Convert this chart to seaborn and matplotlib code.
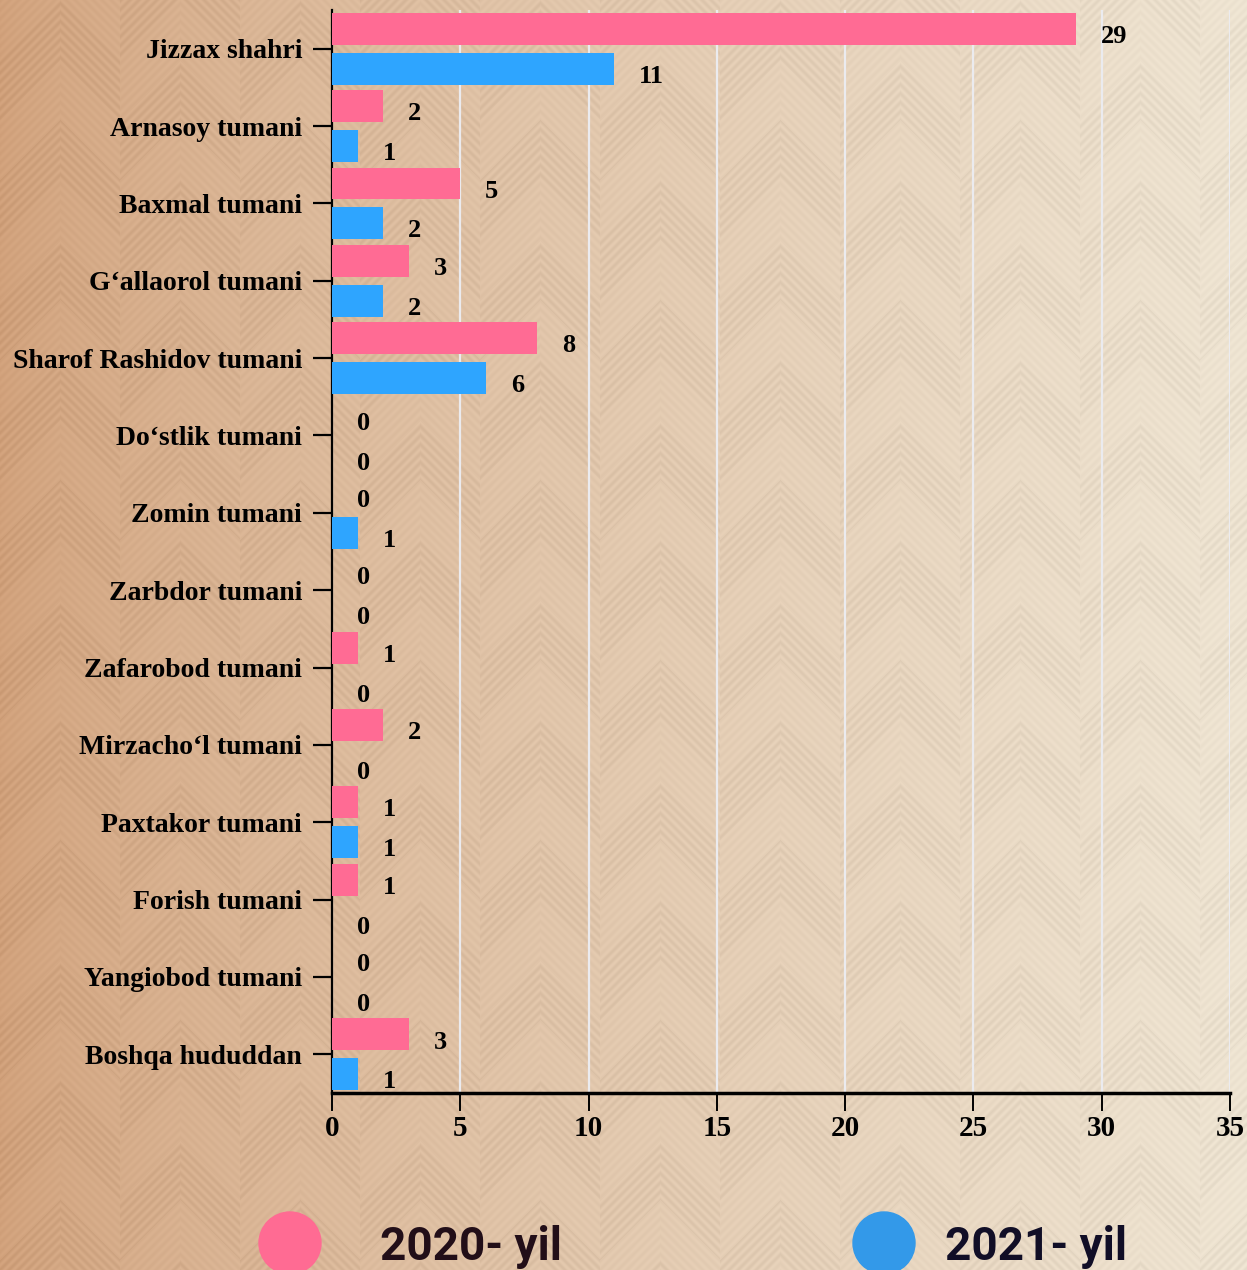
import numpy as np
import pandas as pd
import matplotlib
matplotlib.use("Agg")
import matplotlib.pyplot as plt
import seaborn as sns

# data
hududlar = [
    "Jizzax shahri", "Arnasoy tumani", "Baxmal tumani", "G\u2018allaorol tumani",
    "Sharof Rashidov tumani", "Do\u2018stlik tumani", "Zomin tumani", "Zarbdor tumani",
    "Zafarobod tumani", "Mirzacho\u2018l tumani", "Paxtakor tumani", "Forish tumani",
    "Yangiobod tumani", "Boshqa hududdan",
]
yil_2020 = [29, 2, 5, 3, 8, 0, 0, 0, 1, 2, 1, 1, 0, 3]
yil_2021 = [11, 1, 2, 2, 6, 0, 1, 0, 0, 0, 1, 0, 0, 1]
yillar = ["2020- yil", "2021- yil"]
x_ticks = [0, 5, 10, 15, 20, 25, 30, 35]

bar_colors = ["#ff6b94", "#2ea5ff"]
legend_colors = ["#ff6b93", "#3399e9"]
legend_text_colors = ["#220e18", "#110e26"]

df = pd.DataFrame({
    "hudud": hududlar * 2,
    "soni": yil_2020 + yil_2021,
    "yil": [yillar[0]] * len(hududlar) + [yillar[1]] * len(hududlar),
})

sns.set_style("white")
plt.rcParams["font.family"] = ["Liberation Serif", "DejaVu Serif"]
plt.rcParams["text.color"] = "black"
plt.rcParams["xtick.color"] = "black"
plt.rcParams["ytick.color"] = "black"

W, H = 1247, 1270
fig = plt.figure(figsize=(W / 100, H / 100), dpi=100)

# background: warm gradient with faint chevron texture
bg = fig.add_axes([0, 0, 1, 1], zorder=-10)
xx, yy = np.meshgrid(np.arange(W), np.arange(H))
t = (xx / W) ** 0.75
left = np.array([212, 164, 126]) / 255
right = np.array([241, 231, 213]) / 255
img = left[None, None, :] * (1 - t[..., None]) + right[None, None, :] * t[..., None]
T = 120
f = yy + np.abs(((xx + T / 2) % T) - T / 2)
stripes = 0.5 + 0.5 * np.cos(2 * np.pi * f / 9)
seg = ((f // 60) + (xx // T)) % 2
shade = 0.045 * stripes * (0.5 + 0.5 * seg)
img = np.clip(img - shade[..., None], 0, 1)
bg.imshow(img, aspect="auto", extent=[0, 1, 0, 1])
bg.set_axis_off()

ax = fig.add_axes([332 / W, 177 / H, (1230 - 332) / W, (1260 - 177) / H])
ax.patch.set_alpha(0)

sns.barplot(
    data=df, y="hudud", x="soni", hue="yil", orient="h",
    palette=bar_colors, saturation=1, width=1.03, gap=0.2,
    legend=False, ax=ax, zorder=3, linewidth=0,
)

for cont in ax.containers:
    for p in cont:
        w = p.get_width()
        ax.annotate(
            f"{int(round(w))}", (w, p.get_y() + p.get_height() / 2),
            xytext=(18, -5.5), textcoords="offset points",
            ha="left", va="center", fontsize=19, fontweight="bold", color="black",
        )

ax.set_xlim(0, 35)
ax.set_ylim(len(hududlar) - 0.5, -0.5)
ax.set_xticks(x_ticks)
ax.set_xlabel("")
ax.set_ylabel("")
ax.grid(axis="x", color="#ebebef", linewidth=1.6, zorder=0)
ax.grid(axis="y", visible=False)
ax.set_axisbelow(True)
for s in ["top", "right"]:
    ax.spines[s].set_visible(False)
ax.spines["left"].set_linewidth(1.6)
ax.spines["left"].set_color("black")
ax.spines["bottom"].set_linewidth(2.5)
ax.spines["bottom"].set_color("black")
ax.tick_params(axis="y", left=True, length=13.5, width=1.6, pad=8, labelsize=20,
               color="black", labelcolor="black")
ax.tick_params(axis="x", bottom=True, length=13, width=1.4, pad=3, labelsize=21,
               color="black", labelcolor="black")
for lab in ax.get_yticklabels() + ax.get_xticklabels():
    lab.set_fontweight("bold")

# legend row
for cx, col, tx, label, tcol in [
    (290, legend_colors[0], 380, yillar[0], legend_text_colors[0]),
    (884, legend_colors[1], 945, yillar[1], legend_text_colors[1]),
]:
    circ = matplotlib.patches.Ellipse(
        (cx / W, 1 - 1243 / H), 62 / W, 62 / H,
        transform=fig.transFigure, color=col, zorder=5,
    )
    fig.patches.append(circ)
    fig.text(tx / W, 10 / H, label, fontsize=33, fontweight="bold", color=tcol,
             family=["Roboto", "DejaVu Sans"],
             ha="left", va="baseline")

fig.savefig("out.png", dpi=100)
